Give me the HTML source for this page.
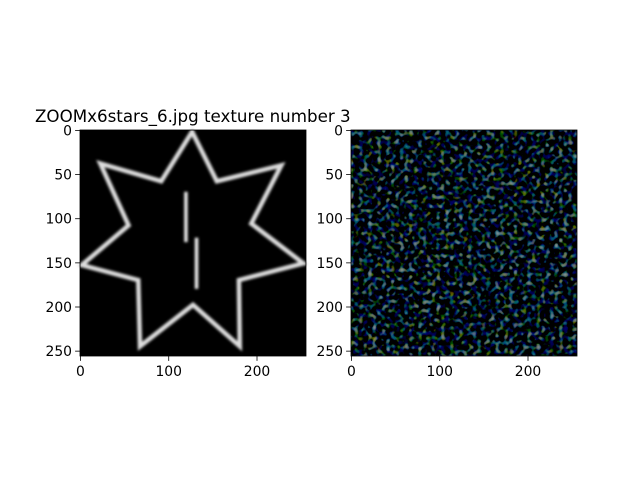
<!DOCTYPE html>
<html><head><meta charset="utf-8"><style>
body{margin:0;background:#fff;width:640px;height:480px;overflow:hidden}
text{font-family:"DejaVu Sans","Liberation Sans",sans-serif;fill:#000}
</style></head><body>
<svg width="640" height="480" viewBox="0 0 640 480">
<defs>
<filter id="blur" filterUnits="userSpaceOnUse" x="70" y="120" width="250" height="250"><feGaussianBlur stdDeviation="1.2"/></filter>
<filter id="noise" filterUnits="userSpaceOnUse" x="351" y="130" width="226" height="226">
<feTurbulence type="fractalNoise" baseFrequency="0.22" numOctaves="1" seed="7" result="t"/>
<feColorMatrix in="t" type="matrix" values="1.2 1.2 0.2 0 -1.45  0.8 1.6 0.4 0 -1.45  0.4 1.0 1.4 0 -1.4  0 0 0 0 1"/>
</filter>
<clipPath id="c2"><rect x="351" y="130" width="226" height="226"/></clipPath>
</defs>
<text x="35" y="122" font-size="16.7">ZOOMx6stars_6.jpg texture number 3</text>
<g id="ax1"></g>
<g id="ax2"></g>
</svg>
<script>
const starOuter=[[127,2],[228,40],[253,151],[181,245],[68,245],[2,153],[23,38]];
const starInner=[[155,58],[194,106],[180,170],[128,198],[66,170],[55,108],[92,58]];
const bars=[[120,70,120,127],[132,122,132,180]];
const yTicks=[0,50,100,150,200,250];
const xTicks=[0,100,200];
const NS="http://www.w3.org/2000/svg";
function mk(t,a,p){const e=document.createElementNS(NS,t);for(const k in a)e.setAttribute(k,a[k]);p.appendChild(e);return e;}
function axes(x0,y0,size){
  const s=size/256;
  return {sx:v=>x0+v*s, sy:v=>y0+v*s, s};
}
function drawTicks(g,x0,y0,size,a){
  yTicks.forEach(v=>{
    const y=a.sy(v+0.5);
    mk('line',{x1:x0-4.9,x2:x0,y1:y,y2:y,stroke:'#000','stroke-width':0.8},g);
    const t=mk('text',{x:x0-8,y:y+5,'font-size':13.9,'text-anchor':'end'},g);t.textContent=v;
    
    
  });
  xTicks.forEach(v=>{
    const x=a.sx(v+0.5);
    mk('line',{x1:x,x2:x,y1:y0+size,y2:y0+size+4.9,stroke:'#000','stroke-width':0.8},g);
    const t=mk('text',{x:x,y:y0+size+20,'font-size':13.9,'text-anchor':'middle'},g);t.textContent=v;
    
    
  });
  mk('rect',{x:x0,y:y0,width:size,height:size,fill:'none',stroke:'#000','stroke-width':0.8},g);
}
const g1=document.getElementById('ax1');
const a1=axes(80,130,226);
mk('rect',{x:80,y:130,width:226,height:226,fill:'#000'},g1);
let pts=[];for(let i=0;i<starOuter.length;i++){pts.push(starOuter[i]);pts.push(starInner[i]);}
const d=pts.map(p=>a1.sx(p[0])+','+a1.sy(p[1])).join(' ');
const star=mk('polygon',{points:d,fill:'none',stroke:'#ddd','stroke-width':4.5,filter:'url(#blur)'},g1);


bars.forEach(b=>{const l=mk('line',{x1:a1.sx(b[0]),y1:a1.sy(b[1]),x2:a1.sx(b[2]),y2:a1.sy(b[3]),stroke:'#eee','stroke-width':3.5,filter:'url(#blur)'},g1);

});
drawTicks(g1,80,130,226,a1);
const g2=document.getElementById('ax2');
const a2=axes(351,130,226);
mk('rect',{x:351,y:130,width:226,height:226,fill:'#000'},g2);
const tex=mk('rect',{x:351,y:130,width:226,height:226,filter:'url(#noise)','clip-path':'url(#c2)',opacity:0.7},g2);


drawTicks(g2,351,130,226,a2);
</script>
</body></html>
